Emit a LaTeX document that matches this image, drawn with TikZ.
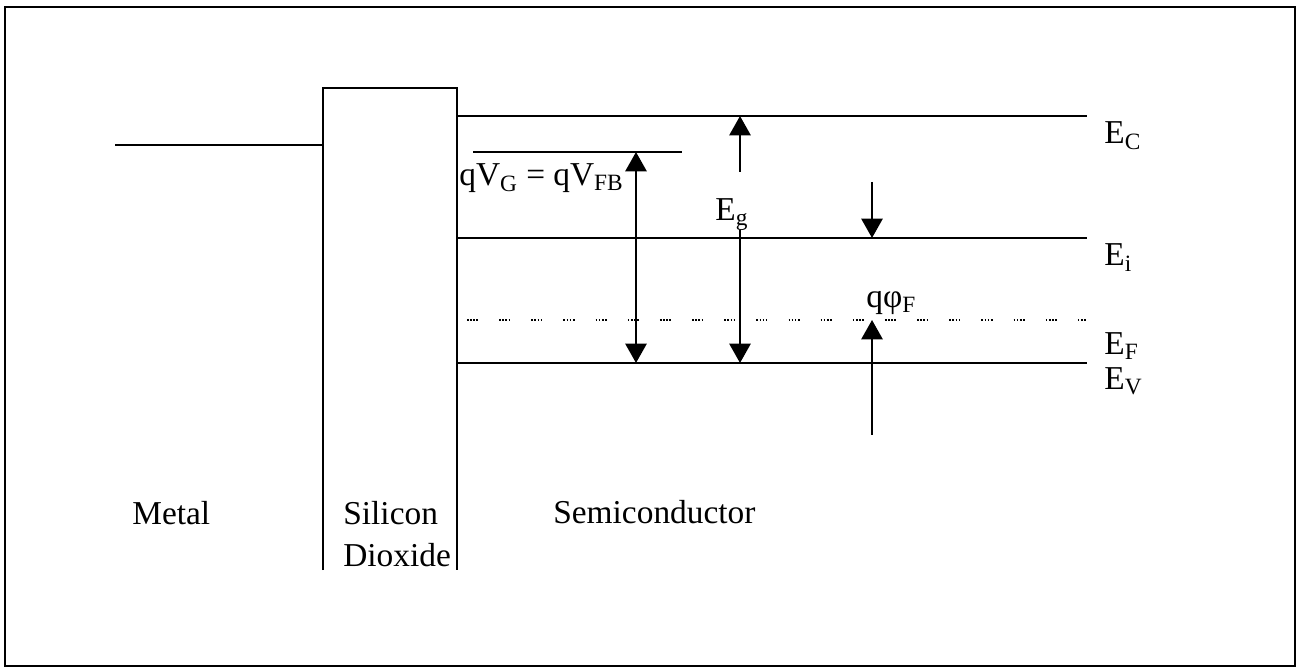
\documentclass[tikz,border=0pt]{standalone}
\usepackage{fontspec}
\setmainfont{Liberation Serif}
\usetikzlibrary{arrows.meta}
\tikzstyle{frame} = [line width=1.3pt]
\tikzstyle{level} = [line width=1.4pt]
\tikzstyle{fermi} = [
    line width=0.9pt,
    dash pattern=on 0.9pt off 0.9pt on 0.9pt off 0.9pt on 0.9pt off 0.9pt on 0.9pt off 12pt
]
\tikzstyle{arrow} = [line width=1.4pt, -{Triangle[length=11pt,width=12pt]}]
\tikzstyle{dblarrow} = [
    line width=1.4pt,
    {Triangle[length=11pt,width=12pt]}-{Triangle[length=11pt,width=12pt]}
]
\tikzstyle{txt} = [
    inner sep=0pt,
    anchor=base west,
    font=\fontsize{19}{22}\selectfont
]

\begin{document}
\begin{tikzpicture}[x=0.02cm, y=-0.02cm]
\useasboundingbox (0,0) rectangle (1300,671);
\draw [frame] (5,7) rectangle (1295,666);

% metal, oxide
\draw [level] (115,145) -- (323,145);
\draw [level] (323,570) -- (323,88) -- (457,88) -- (457,570);

% bands
\draw [level] (457,116) -- (1087,116);
\draw [level] (457,238) -- (1087,238);
\draw [fermi] (467,320) -- (1087,320);
\draw [level] (457,363) -- (1087,363);
\draw [level] (473,152) -- (682,152);

\node (ec) [txt] at (1104,144) {E\textsubscript{C}};
\node (ei) [txt] at (1104,266) {E\textsubscript{i}};
\node (ef) [txt] at (1104,355) {E\textsubscript{F}};
\node (ev) [txt] at (1104,390) {E\textsubscript{V}};

\node (vg) [txt] at (459,186) {qV\textsubscript{G} = qV\textsubscript{FB}};
\node (eg) [txt] at (715,221) {E\textsubscript{g}};
\node (phi) [txt] at (866,308) {qφ\textsubscript{F}};

\node (metal) [txt] at (132,524) {Metal};
\node (silicon) [txt] at (343,524) {Silicon};
\node (dioxide) [txt] at (343,566) {Dioxide};
\node (semi) [txt] at (553,523) {Semiconductor};

% arrows
\coordinate (vgtop) at (636,152);
\coordinate (vgbot) at (636,363);
\coordinate (egtail) at (740,172);
\coordinate (egtop) at (740,116);
\coordinate (eglow) at (740,230);
\coordinate (egbot) at (740,363);
\coordinate (phitail) at (872,182);
\coordinate (phii) at (872,238);
\coordinate (phibase) at (872,435);
\coordinate (phif) at (872,320);

\draw [dblarrow] (vgtop) -- (vgbot);
\draw [arrow] (egtail) -- (egtop);
\draw [arrow] (eglow) -- (egbot);
\draw [arrow] (phitail) -- (phii);
\draw [arrow] (phibase) -- (phif);

\end{tikzpicture}
\end{document}
